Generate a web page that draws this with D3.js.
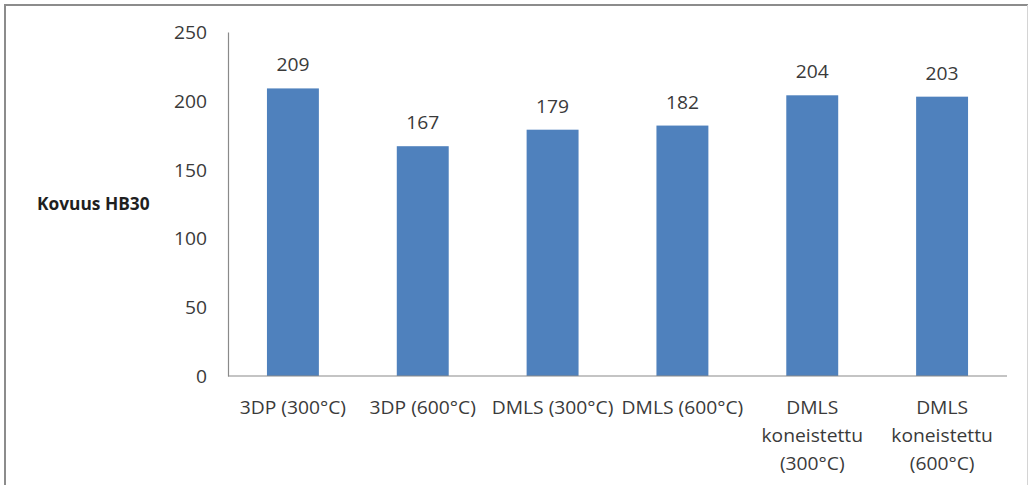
<!DOCTYPE html>
<html><head><meta charset="utf-8">
<script src="https://cdn.jsdelivr.net/npm/d3@7"></script>
<style>html,body{margin:0;padding:0;background:#fff;}svg{display:block;}</style>
</head><body>
<svg id="c" width="1030" height="485"></svg>
<script>
const categories = [
  ["3DP (300°C)"],
  ["3DP (600°C)"],
  ["DMLS (300°C)"],
  ["DMLS (600°C)"],
  ["DMLS", "koneistettu", "(300°C)"],
  ["DMLS", "koneistettu", "(600°C)"]
];
const values = [209, 167, 179, 182, 204, 203];
const yTicks = [0, 50, 100, 150, 200, 250];
const yTitle = "Kovuus HB30";

const svg = d3.select("#c");
const W = 1030, H = 485;
const m = {left: 228, right: 1007, top: 32, bottom: 376};
const sx = 1.07; // horizontal text stretch

svg.append("rect").attr("width", W).attr("height", H).attr("fill", "#fff");
// frame
svg.append("line").attr("x1", 5).attr("x2", 5).attr("y1", 5).attr("y2", 485).attr("stroke", "#8c8c8c").attr("stroke-width", 2);
svg.append("line").attr("x1", 4).attr("x2", 1028).attr("y1", 5).attr("y2", 5).attr("stroke", "#8c8c8c").attr("stroke-width", 2);
svg.append("line").attr("x1", 1027.5).attr("x2", 1027.5).attr("y1", 5).attr("y2", 485).attr("stroke", "#d4d4d4").attr("stroke-width", 1);

const idx = categories.map((d, i) => i);
const x = d3.scaleBand().domain(idx).range([m.left, m.right]).paddingInner(0.6).paddingOuter(0.3);
const y = d3.scaleLinear().domain([0, 250]).range([m.bottom, m.top]);

const fontFam = "'Open Sans', 'DejaVu Sans', sans-serif";
function stretchedText(g, tx, ty, txt, opts) {
  const s = opts.sx || sx;
  const t = g.append("text")
    .attr("transform", `translate(${tx},${ty}) scale(${s},1)`)
    .attr("font-family", fontFam)
    .attr("font-size", opts.size || 18)
    .attr("fill", opts.fill || "#3a3a3a")
    .attr("text-anchor", opts.anchor || "middle")
    .attr("font-weight", opts.weight || "normal")
    .text(txt);
  if (opts.dy) t.attr("dy", opts.dy);
  return t;
}

// bars
svg.append("g").selectAll("rect").data(values).join("rect")
  .attr("x", (d, i) => x(i))
  .attr("y", d => y(d))
  .attr("width", x.bandwidth())
  .attr("height", d => y(0) - y(d))
  .attr("fill", "#4f81bd");

// axes
const yAxis = d3.axisLeft(y).tickValues(yTicks).tickSize(0).tickPadding(21);
const gy = svg.append("g").attr("transform", `translate(${m.left},0)`).call(yAxis);
gy.select(".domain").attr("stroke", "#8a8a8a").attr("stroke-width", 1.2);
gy.selectAll(".tick text").remove();
gy.selectAll(".tick").each(function(d) {
  stretchedText(d3.select(this), -21, 0, d, {anchor: "end", dy: "0.36em"});
});

const xAxis = d3.axisBottom(x).tickSize(0).tickFormat("");
const gx = svg.append("g").attr("transform", `translate(0,${m.bottom})`).call(xAxis);
gx.select(".domain").attr("stroke", "#8a8a8a").attr("stroke-width", 1.2).attr("d", `M${m.left},0H${m.right}`);
gx.selectAll(".tick text").remove();
gx.selectAll(".tick").each(function(i) {
  const g = d3.select(this);
  categories[i].forEach((line, k) => {
    stretchedText(g, 0, 38 + k * 28, line, {});
  });
});

// value labels
svg.append("g").selectAll("g").data(values).join("g").each(function(d, i) {
  stretchedText(d3.select(this), x(i) + x.bandwidth() / 2, y(d) - 17, d, {});
});

// y title
stretchedText(svg, 37, 210, yTitle, {anchor: "start", weight: "bold", size: 17, sx: 1.02, fill: "#1f1f1f"});
</script>
</body></html>
